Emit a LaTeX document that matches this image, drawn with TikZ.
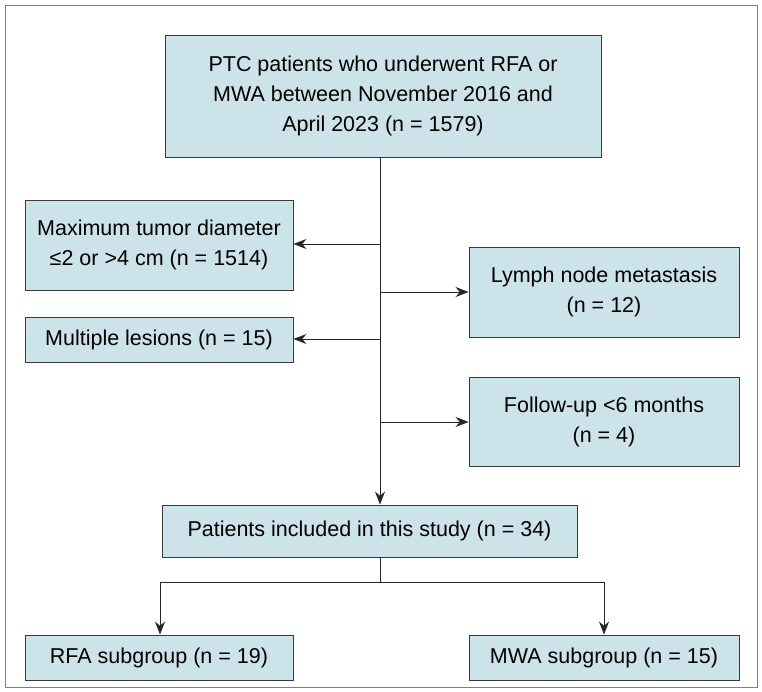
\documentclass[tikz,border=0pt]{standalone}
\usepackage{fontspec}
\setmainfont{Liberation Sans}
\usetikzlibrary{arrows.meta}
\definecolor{boxfill}{HTML}{CDE3EA}
\definecolor{boxline}{HTML}{3A3A3A}
\tikzset{
  bx/.style={draw=boxline, fill=boxfill, line width=0.9pt, align=center, inner sep=0pt, font=\fontsize{21.5}{30}\selectfont},
  arr/.style={draw=black!85, line width=0.9pt, -{Stealth[length=13pt,width=10pt]}},
  ln/.style={draw=black!85, line width=0.9pt}
}
\newcommand{\bxat}[6]{\node[bx, minimum width=#4-#2, minimum height=#5-#3] (#1) at ({(#2+#4)/2},{-(#3+#5)/2}) {#6};}
\begin{document}
\begin{tikzpicture}[x=1pt,y=1pt]
\useasboundingbox (0,0) rectangle (762,-692);
\draw[black!50, line width=0.8pt] (5,-5) rectangle (757,-687);
\bxat{top}{165}{35}{601}{157}{PTC patients who underwent RFA or\\MWA between November 2016 and\\April 2023 (n = 1579)}
\bxat{maxd}{25}{200}{293}{290}{Maximum tumor diameter\\≤2 or >4 cm (n = 1514)}
\bxat{lymph}{469}{247}{739}{337}{Lymph node metastasis\\(n = 12)}
\bxat{mult}{25}{317}{293}{362}{Multiple lesions (n = 15)}
\bxat{fu}{469}{377}{739}{466}{Follow-up <6 months\\(n = 4)}
\bxat{inc}{162}{505}{577}{557}{Patients included in this study (n = 34)}
\bxat{rfa}{25}{635}{293}{680}{RFA subgroup (n = 19)}
\bxat{mwa}{469}{635}{739}{680}{MWA subgroup (n = 15)}
\coordinate (c1) at (380,-244);
\coordinate (c2) at (380,-292);
\coordinate (c3) at (380,-339);
\coordinate (c4) at (380,-422);
\draw[arr] (top.south -| c1) -- (inc.north -| c1);
\draw[arr] (c1) -- (maxd.east |- c1);
\draw[arr] (c2) -- (lymph.west |- c2);
\draw[arr] (c3) -- (mult.east |- c3);
\draw[arr] (c4) -- (fu.west |- c4);
\coordinate (s) at (380,-582);
\coordinate (sl) at (160,-582);
\coordinate (sr) at (604,-582);
\draw[ln] (inc.south -| s) -- (s);
\draw[ln] (sl) -- (sr);
\draw[arr] (sl) -- (rfa.north -| sl);
\draw[arr] (sr) -- (mwa.north -| sr);
\end{tikzpicture}
\end{document}
